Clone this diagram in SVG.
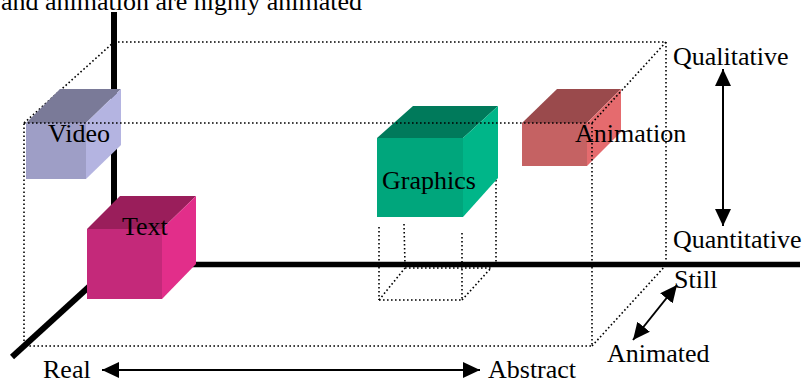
<svg xmlns="http://www.w3.org/2000/svg" width="806" height="381" viewBox="0 0 806 381">
<style>
text{font-family:"Liberation Serif","DejaVu Serif","Times New Roman",serif;font-size:26px;fill:#000}
.axis{stroke:#000;fill:none;stroke-linecap:butt}
.dot{stroke:#000;stroke-width:1.6;stroke-dasharray:1.6 2.4;fill:none}
.arr{stroke:#000;stroke-width:2;fill:none;marker-start:url(#ah);marker-end:url(#ah)}
</style>
<defs>
<marker id="ah" markerUnits="userSpaceOnUse" markerWidth="17" markerHeight="16" refX="17" refY="8" orient="auto-start-reverse" viewBox="0 0 17 16">
<path d="M0,0 L17,8 L0,16 z" fill="#000"/>
</marker>
</defs>
<rect width="806" height="381" fill="#fff"/>
<text x="1" y="10">and animation are highly animated</text>
<g id="connectors">
<g id="axes">
<line class="axis" x1="114" y1="12" x2="114" y2="265" stroke-width="6"/>
<line class="axis" x1="114" y1="264.5" x2="800" y2="264.5" stroke-width="5.6"/>
<line class="axis" x1="115" y1="263" x2="12" y2="357" stroke-width="6"/>
</g>
<g id="back-box">
<polyline class="dot" points="114,42 666,42 666,265"/>
<line class="dot" x1="24" y1="123" x2="114" y2="42"/>
</g>
<g id="graphics-shadow">
<line class="dot" x1="379" y1="227" x2="379" y2="300"/>
<line class="dot" x1="404" y1="224" x2="405" y2="265"/>
<line class="dot" x1="462" y1="233" x2="462" y2="300"/>
<line class="dot" x1="496" y1="180" x2="496" y2="265"/>
<line class="dot" x1="379" y1="300" x2="462" y2="300"/>
<line class="dot" x1="379" y1="300" x2="405" y2="268"/>
<line class="dot" x1="462" y1="300" x2="491" y2="268"/>
<line class="dot" x1="405" y1="268" x2="491" y2="268"/>
</g>
</g>
<g id="video">
<polygon points="26,123 60,89 121,89 86,123" fill="#7a7a98"/>
<polygon points="86,123 121,89 121,145 86,179" fill="#b4b4e1"/>
<polygon points="26,123 86,123 86,179 26,179" fill="#9e9ec6"/>
<text x="48" y="142">Video</text>
</g>
<g id="text-node">
<polygon points="87,229 120,196 196,196 162,229" fill="#9a1e5b"/>
<polygon points="162,229 196,196 196,264 162,299" fill="#e22e8a"/>
<polygon points="87,229 162,229 162,299 87,299" fill="#c4297a"/>
<text x="122" y="235">Text</text>
</g>
<g id="graphics">
<polygon points="377,138 413,106 498,106 463,138" fill="#007a5b"/>
<polygon points="463,138 498,106 498,178 463,217" fill="#00b689"/>
<polygon points="377,138 463,138 463,217 377,217" fill="#00a67c"/>
<text x="382" y="189">Graphics</text>
</g>
<g id="animation">
<polygon points="522,123 557,89 621,89 587,123" fill="#9a4a4c"/>
<polygon points="587,123 621,89 621,132 587,166" fill="#e56b6e"/>
<polygon points="522,123 587,123 587,166 522,166" fill="#c56263"/>
<text x="575" y="142">Animation</text>
</g>
<g id="front-box">
<polyline class="dot" points="24,123 592,123 592,346 24,346 24,123"/>
<line class="dot" x1="592" y1="123" x2="666" y2="42"/>
<line class="dot" x1="592" y1="346" x2="666" y2="265"/>
</g>
<g id="arrows">
<line class="arr" x1="723" y1="69" x2="723" y2="226"/>
<line class="arr" x1="677" y1="285" x2="633" y2="340"/>
<line class="arr" x1="102" y1="370" x2="480" y2="370"/>
</g>
<g id="labels">
<text x="673" y="65">Qualitative</text>
<text x="673" y="248">Quantitative</text>
<text x="674" y="288">Still</text>
<text x="607" y="362">Animated</text>
<text x="43" y="378">Real</text>
<text x="488" y="378">Abstract</text>
</g>
</svg>
